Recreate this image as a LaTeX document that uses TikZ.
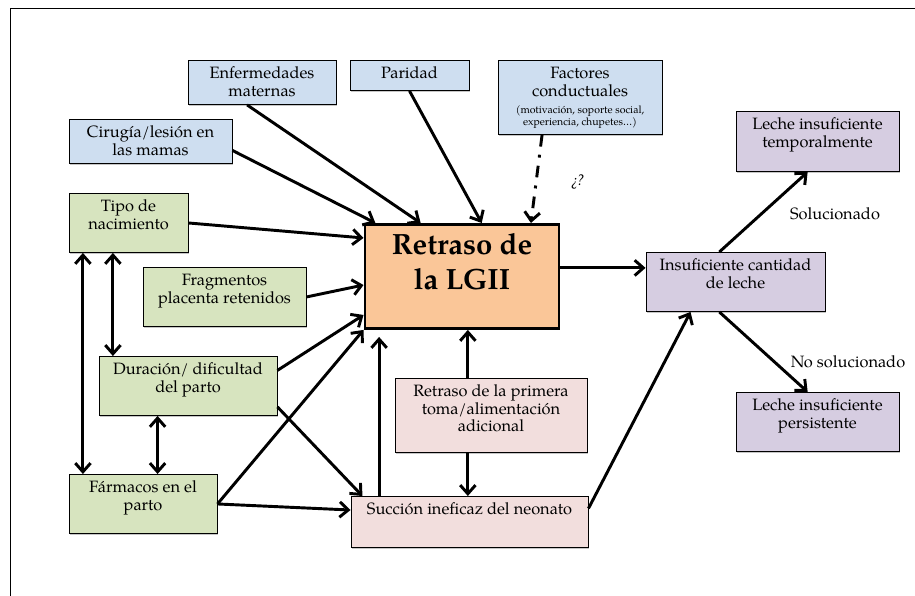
\documentclass[tikz,border=0pt]{standalone}
\usepackage{fontspec}
\setmainfont{TeX Gyre Pagella}
\usetikzlibrary{arrows.meta,calc,shadows}
\definecolor{cblue}{RGB}{206,222,240}
\definecolor{cgreen}{RGB}{215,228,191}
\definecolor{cpink}{RGB}{242,222,221}
\definecolor{cpurple}{RGB}{214,205,225}
\definecolor{corange}{RGB}{250,198,152}
\tikzset{
  boxbase/.style={draw=black, line width=0.8pt, align=center, inner xsep=2pt,
    font=\fontsize{14}{15}\selectfont,
    drop shadow={shadow xshift=0.9pt,shadow yshift=-0.9pt,opacity=0.45}},
  bblue/.style={boxbase, fill=cblue},
  bgreen/.style={boxbase, fill=cgreen},
  bpink/.style={boxbase, fill=cpink},
  bpurple/.style={boxbase, fill=cpurple},
  arr/.style={line width=2.5pt, -{Straight Barb[length=2.6mm,width=4.6mm]}},
  darr/.style={line width=2.5pt, {Straight Barb[length=2.6mm,width=4.6mm]}-{Straight Barb[length=2.6mm,width=4.6mm]}},
  dotdash/.style={arr, dash pattern=on 10pt off 7pt on 2.5pt off 7pt},
  lbl/.style={font=\fontsize{14}{15}\selectfont, inner sep=0pt}
}
% #1 name, #2-#5 box corners in px, #6 style, #7 text, #8 extra height (pt) above last baseline
\newcommand\mybox[8]{%
  \pgfmathsetlengthmacro\mybxw{(#4-#2)*0.03cm}%
  \pgfmathsetlengthmacro\mybxh{18*0.03cm+#8pt}%
  \pgfmathsetlengthmacro\mybxd{(#5-#3-18)*0.03cm-#8pt}%
  \node[#6, anchor=north, minimum width=\mybxw, text height=\mybxh, text depth=\mybxd, inner ysep=0pt] (#1) at ({(#2+#4)/2},#3) {#7};}
\begin{document}
\begin{tikzpicture}[x=0.03cm, y=-0.03cm]
\useasboundingbox (0,0) rectangle (915,596);
\draw[line width=0.8pt] (10,596) -- (10,8) -- (915,8);

\mybox{enf}{188}{60}{336}{104}{bblue}{Enfermedades\\maternas}{15}
\mybox{par}{350}{60}{469}{90}{bblue}{Paridad}{0}
\mybox{fac}{498}{60}{662}{134}{bblue}{Factores\\conductuales\\{\fontsize{9}{10.5}\selectfont (motivación, soporte social,}\\[-4.5pt]{\fontsize{9}{10.5}\selectfont experiencia, chupetes…)}}{40.5}
\mybox{cir}{69}{119}{232}{163}{bblue}{Cirugía/lesión en\\las mamas}{15}
\mybox{tipo}{69}{193}{188}{252}{bgreen}{Tipo de\\nacimiento}{15}
\mybox{frag}{143}{267}{306}{326}{bgreen}{Fragmentos\\placenta retenidos}{15}
\mybox{dur}{99}{356}{277}{415}{bgreen}{Duración/ dificultad\\del parto}{15}
\mybox{farm}{69}{474}{217}{533}{bgreen}{Fármacos en el\\parto}{15}
\mybox{toma}{395}{378}{587}{452}{bpink}{Retraso de la primera\\toma/alimentación\\adicional}{30}
\mybox{suc}{351}{496}{588}{547}{bpink}{Succión ineficaz del neonato}{0}
\mybox{ins}{646}{252}{825}{311}{bpurple}{Insuficiente cantidad\\de leche}{15}
\mybox{tmp}{736}{111}{899}{171}{bpurple}{Leche insuficiente\\temporalmente}{15}
\mybox{per}{736}{392}{899}{451}{bpurple}{Leche insuficiente\\persistente}{15}

\node[draw=black, line width=2.5pt, fill=corange, align=center, anchor=north,
  minimum width=5.82cm, text height={0.9cm+30pt}, text depth={2.22cm-30pt}, inner ysep=0pt,
  font=\bfseries\fontsize{25}{30}\selectfont,
  drop shadow={shadow xshift=0.9pt,shadow yshift=-0.9pt,opacity=0.45}]
  (lgii) at (462,223) {Retraso de\\la LGII};

\node[lbl] (sol) at (835,214) {Solucionado};
\node[lbl] (nosol) at (848,362) {No solucionado};
\node[lbl, font=\itshape\fontsize{13}{15}\selectfont] (q) at (577,182) {¿?};

% arrows into LGII
\draw[arr] ($(enf.south west)!0.40!(enf.south east)$) -- ($(lgii.north west)!0.29!(lgii.north east)$);
\draw[arr] ($(cir.north east)!0.70!(cir.south east)$) -- ($(lgii.north west)!0.06!(lgii.north east)$);
\draw[arr] (par.south) -- ($(lgii.north west)!0.60!(lgii.north east)$);
\draw[dotdash] ($(fac.south west)!0.27!(fac.south east)$) -- ($(lgii.north west)!0.85!(lgii.north east)$);
\draw[arr] (tipo.east) -- ($(lgii.north west)!0.14!(lgii.south west)$);
\draw[arr] (frag.east) -- ($(lgii.north west)!0.58!(lgii.south west)$);
\draw[arr] ($(dur.north east)!0.24!(dur.south east)$) -- ($(lgii.north west)!0.86!(lgii.south west)$);
\draw[arr] (farm.east) -- (lgii.south west);

% into Succion
\draw[arr] ($(dur.north east)!0.85!(dur.south east)$) -- ($(suc.north west)!0.05!(suc.north east)$);
\draw[arr] (farm.east) -- ($(suc.north west)!0.27!(suc.south west)$);

\coordinate (s1) at ($(suc.north west)!0.12!(suc.north east)$);
\draw[arr, shorten >=6pt] (s1) -- (s1 |- lgii.south);

\coordinate (t1) at ($(toma.north west)!0.38!(toma.north east)$);
\draw[arr] (t1) -- (t1 |- lgii.south);
\coordinate (t2) at ($(toma.south west)!0.38!(toma.south east)$);
\draw[arr] (t2) -- (t2 |- suc.north);

% towards insufficient milk
\draw[arr] ($(suc.north east)!0.24!(suc.south east)$) -- ($(ins.south west)!0.25!(ins.south east)$);
\coordinate (l1) at ($(lgii.north east)!0.42!(lgii.south east)$);
\draw[arr] (l1) -- (l1 -| ins.west);
\draw[arr] ($(ins.north west)!0.41!(ins.north east)$) -- ($(tmp.south west)!0.44!(tmp.south east)$);
\draw[arr] ($(ins.south west)!0.41!(ins.south east)$) -- ($(per.north west)!0.44!(per.north east)$);

% double arrows among green boxes
\coordinate (d1) at ($(tipo.south west)!0.12!(tipo.south east)$);
\draw[darr] (d1) -- (d1 |- farm.north);
\coordinate (d2) at ($(tipo.south west)!0.37!(tipo.south east)$);
\draw[darr] (d2) -- (d2 |- dur.north);
\coordinate (d3) at ($(dur.south west)!0.33!(dur.south east)$);
\draw[darr] (d3) -- (d3 |- farm.north);
\end{tikzpicture}
\end{document}
